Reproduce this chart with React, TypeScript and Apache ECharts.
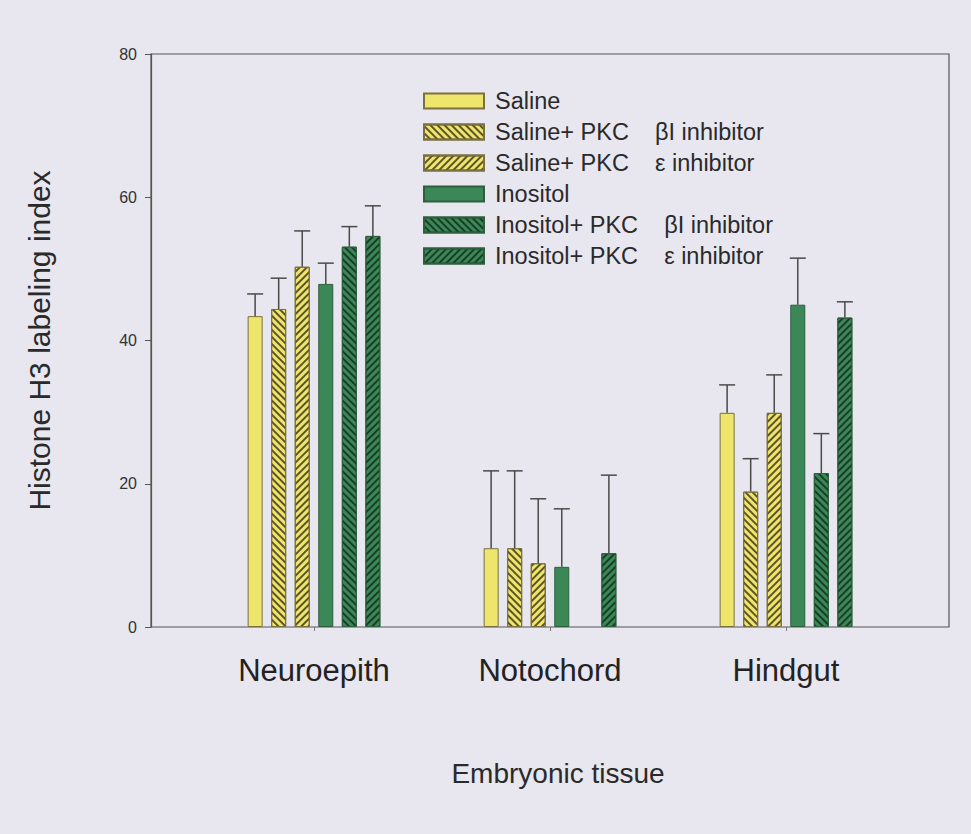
import React, { useEffect, useRef } from 'react';
import * as echarts from 'echarts';

const categories = ['Neuroepith', 'Notochord', 'Hindgut'];
const seriesNames = [
  'Saline',
  'Saline+ PKC    βI inhibitor',
  'Saline+ PKC    ε inhibitor',
  'Inositol',
  'Inositol+ PKC    βI inhibitor',
  'Inositol+ PKC    ε inhibitor',
];
const saline = [43.4, 11.0, 29.9];
const salineErr = [46.5, 21.8, 33.8];
const salineBeta = [44.4, 11.0, 18.9];
const salineBetaErr = [48.7, 21.8, 23.5];
const salineEps = [50.3, 8.9, 29.9];
const salineEpsErr = [55.3, 17.9, 35.2];
const inositol = [47.9, 8.4, 45.0];
const inositolErr = [50.8, 16.5, 51.5];
const inositolBeta = [53.1, null, 21.5];
const inositolBetaErr = [55.9, null, 27.0];
const inositolEps = [54.6, 10.3, 43.2];
const inositolEpsErr = [58.8, 21.2, 45.4];
const yTicks = [0, 20, 40, 60, 80];

const values = [saline, salineBeta, salineEps, inositol, inositolBeta, inositolEps];
const errors = [salineErr, salineBetaErr, salineEpsErr, inositolErr, inositolBetaErr, inositolEpsErr];

const YELLOW = '#eee56c';
const GREEN = '#3c8757';
const FONT = '"Liberation Sans", Arial, Helvetica, sans-serif';

export default function App() {
  const ref = useRef<HTMLDivElement>(null);
  useEffect(() => {
    const chart = echarts.init(ref.current!, null, { renderer: 'svg' });
    const BAR_W = 15;
    const GAP = 0.57;
    const step = BAR_W * (1 + GAP);
    const n = values.length;

    const hatch = (dir: number, color: string) => ({
      symbol: 'rect',
      symbolSize: 1,
      dashArrayX: [1, 0],
      dashArrayY: [1.6, 3],
      rotation: (dir * Math.PI) / 4,
      color,
    });
    const styles: any[] = [
      { color: YELLOW, borderColor: '#7a7040', borderWidth: 1 },
      { color: YELLOW, borderColor: '#7a7040', borderWidth: 1, decal: hatch(1, 'rgba(70,60,30,0.85)') },
      { color: YELLOW, borderColor: '#7a7040', borderWidth: 1, decal: hatch(-1, 'rgba(70,60,30,0.85)') },
      { color: GREEN, borderColor: '#2d5e3e', borderWidth: 1 },
      { color: GREEN, borderColor: '#2d5e3e', borderWidth: 1, decal: hatch(1, 'rgba(20,55,32,0.9)') },
      { color: GREEN, borderColor: '#2d5e3e', borderWidth: 1, decal: hatch(-1, 'rgba(20,55,32,0.9)') },
    ];

    const barSeries = values.map((vals, i) => ({
      type: 'bar',
      name: seriesNames[i],
      xAxisIndex: 0,
      yAxisIndex: 0,
      barWidth: BAR_W,
      barGap: `${GAP * 100}%`,
      data: vals.map((v) => (v == null ? '-' : v)),
      itemStyle: styles[i],
      z: 3,
    }));

    const errSeries = errors.map((errs, i) => ({
      type: 'custom',
      name: 'err' + i,
      xAxisIndex: 0,
      yAxisIndex: 0,
      z: 4,
      silent: true,
      data: errs
        .map((e, j) => (e == null || values[i][j] == null ? null : [j, values[i][j], e]))
        .filter((d) => d != null),
      renderItem: (params: any, api: any) => {
        const off = (i - (n - 1) / 2) * step;
        const top = api.coord([api.value(0), api.value(2)]);
        const bot = api.coord([api.value(0), api.value(1)]);
        const x = top[0] + off;
        const half = 8;
        const style = { stroke: '#4a4a4a', lineWidth: 1.5 };
        return {
          type: 'group',
          children: [
            { type: 'line', shape: { x1: x, y1: bot[1], x2: x, y2: top[1] }, style },
            { type: 'line', shape: { x1: x - half, y1: top[1], x2: x + half, y2: top[1] }, style },
          ],
        };
      },
    }));

    const option: any = {
      animation: false,
      backgroundColor: '#e8e6ee',
      textStyle: { fontFamily: FONT },
      grid: [
        { left: 196, width: 708, top: 54, bottom: 207 },
        { left: 151, right: 22, top: 54, bottom: 207, show: true, borderColor: '#555', borderWidth: 1.2, backgroundColor: 'transparent' },
      ],
      xAxis: [
        {
          type: 'category',
          gridIndex: 0,
          data: categories,
          axisLine: { show: false },
          axisTick: { show: true, alignWithLabel: true, length: 4, lineStyle: { color: '#777' } },
          axisLabel: { fontSize: 31, color: '#222', margin: 28, fontFamily: FONT },
        },
        {
          type: 'value',
          gridIndex: 1,
          min: 0,
          max: 1,
          axisLine: { show: false },
          axisTick: { show: false },
          axisLabel: { show: false },
          splitLine: { show: false },
          name: 'Embryonic tissue',
          nameLocation: 'middle',
          nameGap: 132,
          nameTextStyle: { fontSize: 28, color: '#2a2a2a', padding: [0, 0, 0, 16], fontFamily: FONT },
        },
      ],
      yAxis: [
        { type: 'value', gridIndex: 0, min: 0, max: 80, interval: 20, show: false },
        {
          type: 'value',
          gridIndex: 1,
          min: 0,
          max: 80,
          interval: 20,
          axisLine: { show: true, lineStyle: { color: '#555', width: 1.2 } },
          axisTick: { show: true, length: 6, lineStyle: { color: '#555' } },
          axisLabel: { fontSize: 16, color: '#333', margin: 14, fontFamily: FONT, customValues: yTicks },
          splitLine: { show: false },
          name: 'Histone H3 labeling index',
          nameLocation: 'middle',
          nameGap: 97,
          nameTextStyle: { fontSize: 30, color: '#2a2a2a', fontFamily: FONT },
        },
      ],
      legend: {
        data: seriesNames,
        orient: 'vertical',
        left: 418,
        top: 84,
        icon: 'rect',
        itemWidth: 60,
        itemHeight: 15,
        itemGap: 7,
        textStyle: { fontSize: 23.5, color: '#2a2a2a', fontFamily: FONT, padding: [0, 0, 0, 6] },
        selectedMode: false,
      },
      series: [...barSeries, ...errSeries],
    };
    chart.setOption(option);
    return () => chart.dispose();
  }, []);
  return <div ref={ref} style={{ position: 'fixed', left: 0, top: 0, width: 971, height: 834 }} />;
}
